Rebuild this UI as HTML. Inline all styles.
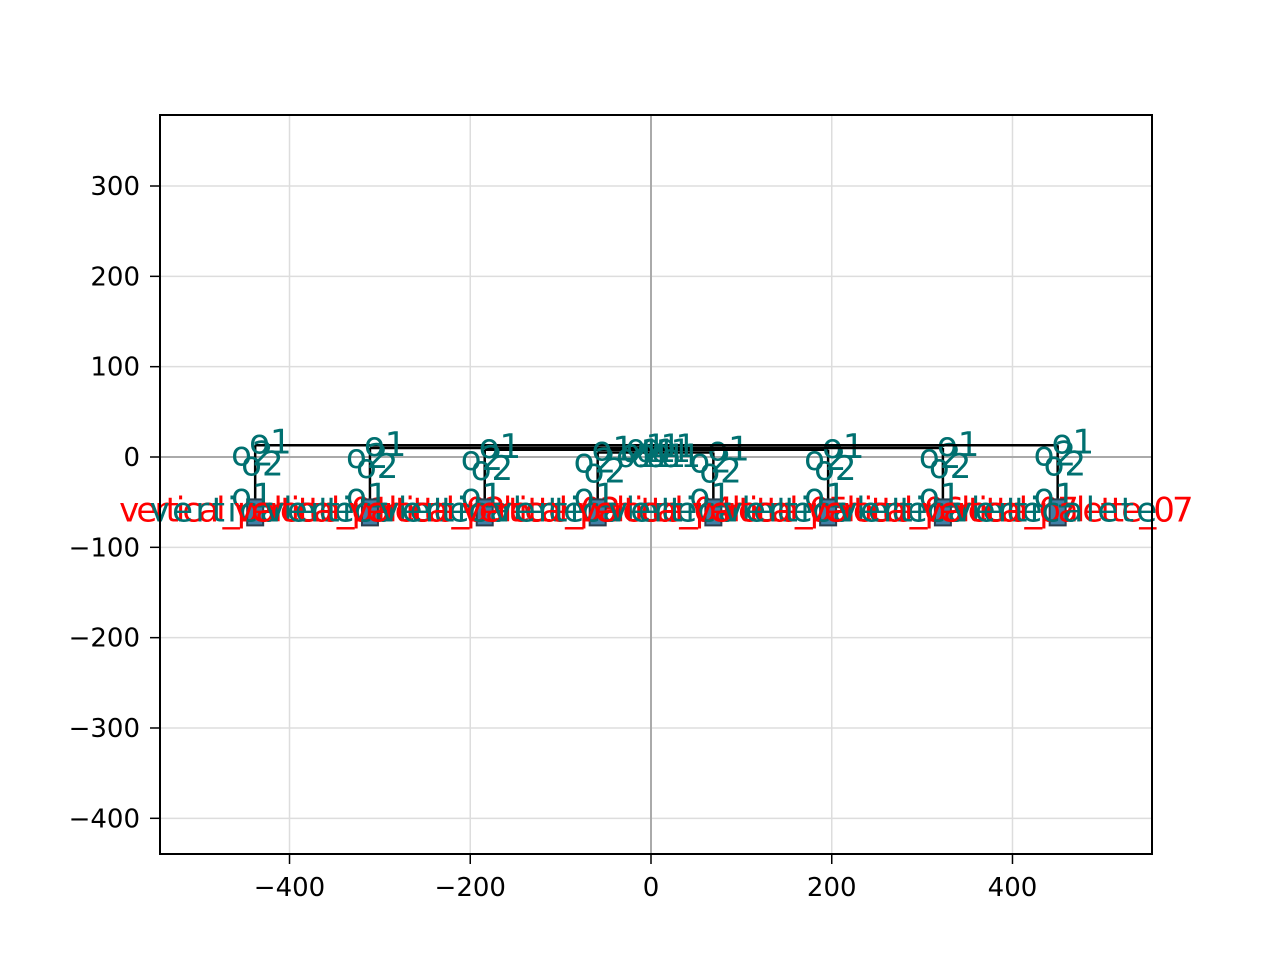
<!DOCTYPE html>
<html><head><meta charset="utf-8"><style>
body{margin:0;background:#fff}
svg text{font-family:"DejaVu Sans","Liberation Sans",sans-serif}
</style></head><body>
<svg id="c" width="1280" height="960" xmlns="http://www.w3.org/2000/svg">
<rect width="1280" height="960" fill="#fff"/>
<g id="grid"></g><g id="marks"></g><g id="axes"></g>
</svg>
<script>
const xTicks=[-400,-200,0,200,400];
const yTicks=[300,200,100,0,-100,-200,-300,-400];
const colX=[-438,-311,-184,-59,69,196,323,450];
const colTop=[13,10,8,5,5,8,10,13];
const colBottom=[-58,-58,-58,-58,-58,-58,-58,-58];
const labels=["01","02","03","04","05","06","07","07"];
const L=160,R=1152,T=115,B=854;
const xs=v=>651+v*0.9037, ys=v=>457-v*0.9033;
const NS="http://www.w3.org/2000/svg";
function mk(p,t,a,txt){const e=document.createElementNS(NS,t);for(const k in a)e.setAttribute(k,a[k]);if(txt!=null)e.textContent=txt;p.appendChild(e);return e;}
const grid=document.getElementById('grid'),marks=document.getElementById('marks'),axes=document.getElementById('axes');
xTicks.forEach(v=>{const x=xs(v);
 const g=mk(grid,'line',{x1:x,x2:x,y1:T,y2:B,stroke:'#ddd','stroke-width':1.5});
 
 mk(axes,'line',{x1:x,x2:x,y1:B,y2:B+10,stroke:'#000','stroke-width':1.5});
 const t=mk(axes,'text',{x:x,y:B+42,'text-anchor':'middle','font-size':26},String(v).replace('-','\u2212'));
 });
yTicks.forEach(v=>{const y=ys(v);
 const g=mk(grid,'line',{x1:L,x2:R,y1:y,y2:y,stroke:'#ddd','stroke-width':1.5});
 
 mk(axes,'line',{x1:L-10,x2:L,y1:y,y2:y,stroke:'#000','stroke-width':1.5});
 const t=mk(axes,'text',{x:L-20,y:y+9,'text-anchor':'end','font-size':26},String(v).replace('-','\u2212'));
 });
mk(grid,'line',{x1:xs(0),x2:xs(0),y1:T,y2:B,stroke:'#aaa','stroke-width':2});
mk(grid,'line',{x1:L,x2:R,y1:ys(0),y2:ys(0),stroke:'#aaa','stroke-width':2});
colX.forEach((v,i)=>{const x=xs(v),yt=ys(colTop[i]),yb=ys(colBottom[i]);
 const h=mk(marks,'line',{x1:x,x2:xs(0),y1:yt,y2:yt,stroke:'#000','stroke-width':2.5});
 
 const vl=mk(marks,'line',{x1:x,x2:x,y1:yt,y2:yb,stroke:'#000','stroke-width':2.5});
 
 const s=mk(marks,'rect',{x:x-8,y:yb-10,width:16,height:26,fill:'#3f7fa6',stroke:'#2a4050','stroke-width':2});
 
 [['o1',x-24,yb-2],['o2',x-24,yt+20],['o2',x-14,yt+30],['o1',x-6,yt+8]].forEach(a=>{
  const t=mk(marks,'text',{x:a[1],y:a[2],'font-size':34,fill:'#007070'},a[0]);
  });
 const r=mk(marks,'text',{x:x,y:yb+12,'text-anchor':'middle','font-size':34,fill:'#f00',textLength:272},'vertical_palette_'+labels[i]);
 
 const tl=mk(marks,'text',{x:x-3,y:yb+12,'text-anchor':'middle','font-size':34,fill:'#007070',textLength:205},'verticalete');
 
});
for(let k=0;k<10;k++){const t=mk(marks,'text',{x:xs(0)-35+k*5,y:ys(0)+10-(k%3)*5,'font-size':32,fill:'#007070'},'o1');
 }
const f=mk(axes,'rect',{x:L,y:T,width:R-L,height:B-T,fill:'none',stroke:'#000','stroke-width':2});

</script>
</body></html>
